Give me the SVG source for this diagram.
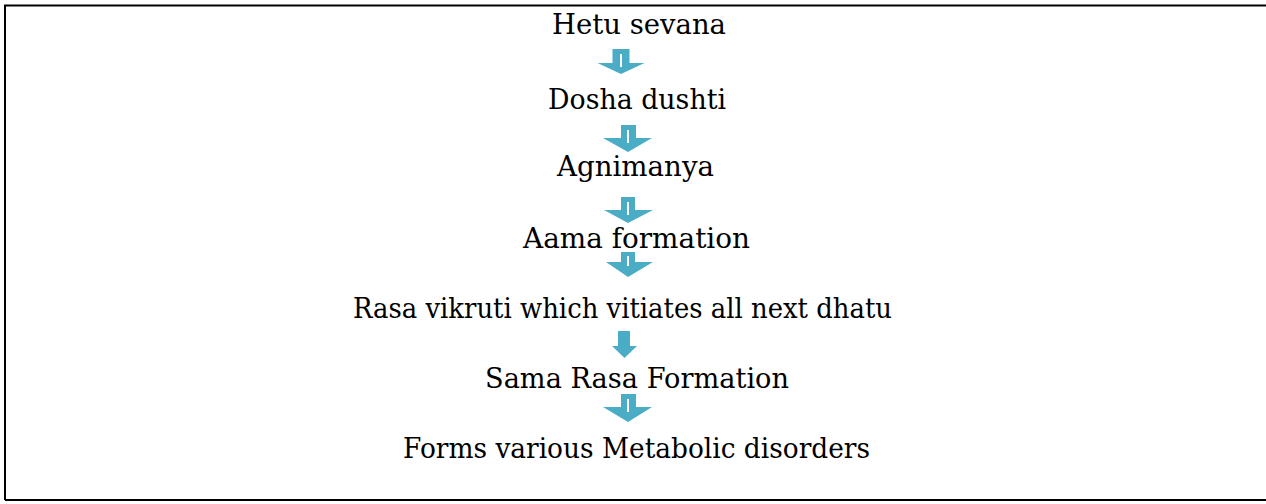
<svg xmlns="http://www.w3.org/2000/svg" width="1266" height="504" viewBox="0 0 1266 504">
<style>
.t{font-family:"DejaVu Serif","Liberation Serif",serif;font-size:27px;fill:#000}
.a{fill:#4BACC6}
.w{stroke:#fff;stroke-width:2}
</style>
<rect x="0" y="0" width="1266" height="504" fill="#fff"/>
<path d="M5 500 V5.5 H1266 M5 500 H1266" fill="none" stroke="#000" stroke-width="2"/>
<g id="n1"><text class="t" x="552" y="34" textLength="174" lengthAdjust="spacingAndGlyphs">Hetu sevana</text></g>
<g id="n2"><text class="t" x="548" y="109" textLength="178" lengthAdjust="spacingAndGlyphs">Dosha dushti</text></g>
<g id="n3"><text class="t" x="557" y="176" textLength="157" lengthAdjust="spacingAndGlyphs">Agnimanya</text></g>
<g id="n4"><text class="t" x="523" y="248" textLength="227" lengthAdjust="spacingAndGlyphs">Aama formation</text></g>
<g id="n5"><text class="t" x="353" y="318" textLength="539" lengthAdjust="spacingAndGlyphs">Rasa vikruti which vitiates all next dhatu</text></g>
<g id="n6"><text class="t" x="485" y="388" textLength="304" lengthAdjust="spacingAndGlyphs">Sama Rasa Formation</text></g>
<g id="n7"><text class="t" x="403" y="458" textLength="467" lengthAdjust="spacingAndGlyphs">Forms various Metabolic disorders</text></g>
<g id="connectors">
<path class="a" d="M612.5 49 H629.5 V63 H644.5 L621 74 L597.5 63 H612.5 Z"/>
<line class="w" x1="621" y1="54" x2="621" y2="67"/>
<path class="a" d="M621 125 H636 V138 H652 L628 152 L603 138 H621 Z"/>
<line class="w" x1="628" y1="130" x2="628" y2="143"/>
<path class="a" d="M621 197 H635 V210 H653 L628 223 L604 210 H621 Z"/>
<line class="w" x1="628" y1="202" x2="628" y2="215"/>
<path class="a" d="M621 252 H635 V262 H653 L628 277 L606 262 H621 Z"/>
<line class="w" x1="628" y1="256" x2="628" y2="266"/>
<path class="a" d="M618 331 H630 V346 H637 L624.5 358 L612 346 H618 Z"/>
<path class="a" d="M621 394 H636 V407 H652 L628 422 L603 407 H621 Z"/>
<line class="w" x1="628" y1="399" x2="628" y2="412"/>
</g>
</svg>
